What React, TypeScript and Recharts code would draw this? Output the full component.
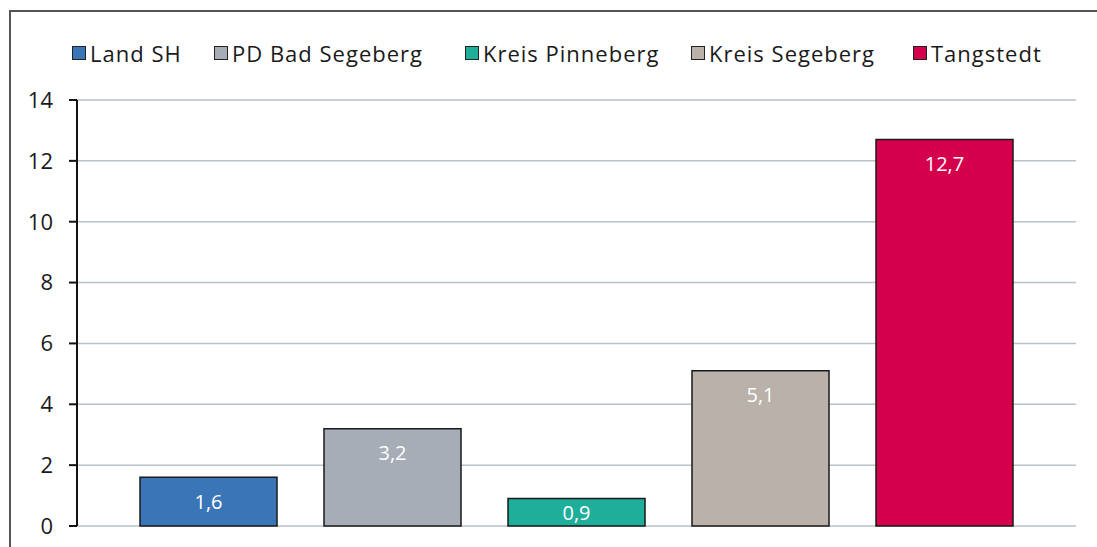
import { BarChart, Bar, XAxis, YAxis, CartesianGrid, LabelList } from 'recharts'

const seriesNames = ['Land SH', 'PD Bad Segeberg', 'Kreis Pinneberg', 'Kreis Segeberg', 'Tangstedt']
const seriesValues = [1.6, 3.2, 0.9, 5.1, 12.7]
const seriesColors = ['#3a76b7', '#a6adb6', '#1fae9a', '#bab1ab', '#d5004c']
const yTicks = [0, 2, 4, 6, 8, 10, 12, 14]
const legendLefts = [72, 214, 465, 691, 913]

const FONT = '"Open Sans", Lato, sans-serif'

const row: Record<string, number | string> = { name: '' }
seriesNames.forEach((_, i) => { row['s' + i] = seriesValues[i] })
const data = [row]

const fmt = (v: number) => v.toFixed(1).replace('.', ',')

function ValueLabel(props: any) {
  const { x, y, width, height, value } = props
  const cy = height < 60 ? y + height / 2 : y + 24
  return (
    <text x={x + width / 2} y={cy} dy="0.36em" textAnchor="middle" fill="#ffffff"
      fontSize={20} fontFamily={FONT}>
      {fmt(value)}
    </text>
  )
}

export default function App() {
  return (
    <div style={{ position: 'absolute', left: 0, top: 0, width: 1097, height: 547, background: '#fff', overflow: 'hidden' }}>
      <div style={{ position: 'absolute', left: 9, top: 10, width: 1100, height: 600, borderTop: '2px solid #555', borderLeft: '2px solid #555' }} />
      <div style={{ position: 'absolute', left: 0, top: 37, width: 1097, height: 32, fontFamily: FONT, fontSize: 22, color: '#1a1a1a', letterSpacing: 1 }}>
        {seriesNames.map((n, i) => (
          <div key={n} style={{ position: 'absolute', left: legendLefts[i], top: 0, display: 'flex', alignItems: 'center', height: 32, whiteSpace: 'nowrap' }}>
            <span style={{ display: 'inline-block', width: 12, height: 12, background: seriesColors[i], border: '1px solid #222', marginRight: 4 }} />
            <span>{n}</span>
          </div>
        ))}
      </div>
      <div style={{ position: 'absolute', left: 0, top: 0 }}>
        <BarChart width={1097} height={547} data={data} barSize={137} barGap={47}
          margin={{ top: 100, right: 21, bottom: 21, left: 0 }}>
          <CartesianGrid vertical={false} stroke="#b9c1c9" strokeWidth={1.5} />
          <XAxis dataKey="name" hide />
          <YAxis domain={[0, 14]} ticks={yTicks} interval={0} width={77}
            axisLine={{ stroke: '#111', strokeWidth: 2 }}
            tickLine={{ stroke: '#111', strokeWidth: 2 }} tickSize={8} tickMargin={16}
            tick={{ fontSize: 22, fill: '#1a1a1a', fontFamily: FONT }} />
          {seriesNames.map((n, i) => (
            <Bar key={n} dataKey={'s' + i} name={n} fill={seriesColors[i]}
              stroke="#1a1a1a" strokeWidth={1.5} isAnimationActive={false}>
              <LabelList dataKey={'s' + i} content={ValueLabel} />
            </Bar>
          ))}
        </BarChart>
      </div>
    </div>
  )
}
